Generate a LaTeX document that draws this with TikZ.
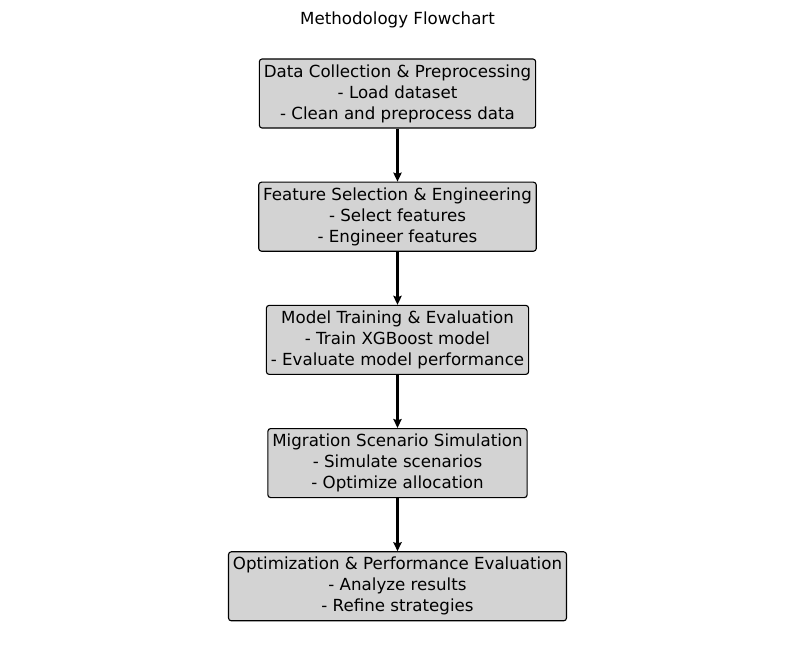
\documentclass[tikz,border=0pt]{standalone}
\usepackage{fontspec}
\setmainfont{DejaVu Sans}
\usetikzlibrary{positioning,arrows.meta}
\definecolor{boxgray}{HTML}{D3D3D3}
\tikzset{
    block/.style={
        draw,
        fill=boxgray,
        line width=0.8pt,
        rectangle,
        rounded corners=2pt,
        align=center,
        inner xsep=3.2pt,
        inner ysep=0pt,
        minimum height=49.7pt,
        font=\fontsize{12pt}{15.1pt}\selectfont
    },
    flow/.style={
        -{Stealth[length=6.5pt,width=6pt,inset=1pt]},
        line width=1.6pt
    },
}
\begin{document}
\begin{tikzpicture}[node distance = 38.2pt, auto]
        \useasboundingbox (0,0) rectangle (571.68pt,-473.76pt);
        % title
        \node[font=\fontsize{12pt}{14.4pt}\selectfont] (title) at (286.2pt,-14.2pt) {Methodology Flowchart};

        % blocks
        \node[block] (collect) at (286.2pt,-67.32pt) {Data Collection \& Preprocessing\\- Load dataset\\- Clean and preprocess data};
        \node[block, below= of collect] (feature) {Feature Selection \& Engineering\\- Select features\\- Engineer features};
        \node[block, below= of feature] (train) {Model Training \& Evaluation\\- Train XGBoost model\\- Evaluate model performance};
        \node[block, below= of train] (migrate) {Migration Scenario Simulation\\- Simulate scenarios\\- Optimize allocation};
        \node[block, below= of migrate] (optim) {Optimization \& Performance Evaluation\\- Analyze results\\- Refine strategies};

        % lines
        \draw[flow] (collect) -- (feature);
        \draw[flow] (feature) -- (train);
        \draw[flow] (train) -- (migrate);
        \draw[flow] (migrate) -- (optim);
    \end{tikzpicture}
\end{document}
